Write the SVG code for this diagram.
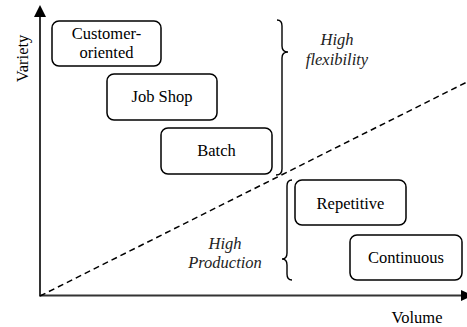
<svg xmlns="http://www.w3.org/2000/svg" width="467" height="327" viewBox="0 0 467 327">
  <style>
    .box { fill: #fff; stroke: #000; stroke-width: 1.5; }
    .brace { fill: none; stroke: #000; stroke-width: 1.4; }
  </style>
  <rect width="467" height="327" fill="#fff"/>

  <g id="connectors">
    <!-- axes -->
    <line id="y-axis" x1="40" y1="296" x2="40" y2="17" stroke="#000" stroke-width="1.6"/>
    <path d="M40,5 L34,17 L46,17 Z" fill="#000"/>
    <line id="x-axis" x1="39" y1="295.5" x2="462" y2="295.5" stroke="#333" stroke-width="2"/>
    <path d="M461,290 L473,295.5 L461,301 Z" fill="#000"/>
    <!-- dividing diagonal -->
    <line id="divider" x1="40" y1="296" x2="467" y2="82" stroke="#000" stroke-width="1.5" stroke-dasharray="6,4"/>
    <!-- braces -->
    <path id="brace-flex" class="brace" d="M277,20 Q282,20 282,26 L282,46 Q282,52 288,52 Q282,52 282,58 L282,169 Q282,175 276,175"/>
    <path id="brace-prod" class="brace" d="M292,180 Q287,180 287,186 L287,253 Q287,259 282,259 Q287,259 287,265 L287,274 Q287,280 292,280"/>
  </g>

  <g id="customer-oriented">
    <rect class="box" x="52" y="21" width="109" height="45" rx="7"/>
    <text font-family="Liberation Serif" font-size="16.5" text-anchor="middle" x="106.5" y="39">Customer-</text>
    <text font-family="Liberation Serif" font-size="16.5" text-anchor="middle" x="106.5" y="58">oriented</text>
  </g>
  <g id="job-shop">
    <rect class="box" x="107" y="74" width="110" height="46" rx="7"/>
    <text font-family="Liberation Serif" font-size="16.5" text-anchor="middle" x="162" y="102">Job Shop</text>
  </g>
  <g id="batch">
    <rect class="box" x="161" y="128" width="111" height="46" rx="7"/>
    <text font-family="Liberation Serif" font-size="16.5" text-anchor="middle" x="216.5" y="156">Batch</text>
  </g>
  <g id="repetitive">
    <rect class="box" x="295" y="180" width="111" height="45" rx="7"/>
    <text font-family="Liberation Serif" font-size="16.5" text-anchor="middle" x="350.5" y="209">Repetitive</text>
  </g>
  <g id="continuous">
    <rect class="box" x="350" y="235" width="112" height="45" rx="7"/>
    <text font-family="Liberation Serif" font-size="16.5" text-anchor="middle" x="406" y="263">Continuous</text>
  </g>

  <g id="labels" font-family="Liberation Serif" font-size="16.5" text-anchor="middle">
    <text font-style="italic" fill="#222" x="337" y="45">High</text>
    <text font-style="italic" fill="#222" x="337" y="65">flexibility</text>
    <text font-style="italic" fill="#222" x="225" y="249">High</text>
    <text font-style="italic" fill="#222" x="225" y="268">Production</text>
    <text x="417" y="323">Volume</text>
    <text transform="translate(28,58.5) rotate(-90)" x="0" y="0">Variety</text>
  </g>
</svg>
